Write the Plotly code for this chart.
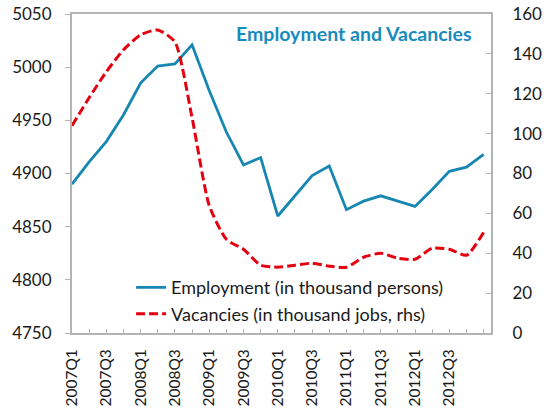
import plotly.graph_objects as go

quarters = [f"{y}Q{q}" for y in range(2007, 2013) for q in range(1, 5)] + ["2013Q1"]
employment = [4890, 4911, 4930, 4955, 4985, 5001, 5003, 5021, 4978, 4939,
              4908, 4915, 4860, 4879, 4898, 4907, 4866, 4874, 4879, 4874,
              4869, 4885, 4902, 4906, 4918]
vacancies = [104, 118, 131, 142, 149.5, 152, 146, 108, 64, 47,
             42, 34, 33, 34, 35, 33.5, 33, 38, 40, 37.5,
             37, 42.5, 42, 39, 50.5]
tick_labels = [q if (i % 2 == 0 and i <= 22) else "" for i, q in enumerate(quarters)]

BLUE = "#1787b1"
RED = "#e3000f"
AXIS = "#b4b4b4"
FONT = "Lato, Open Sans, sans-serif"

fig = go.Figure()
fig.add_trace(go.Scatter(x=quarters, y=employment, mode="lines",
                         name="Employment (in thousand persons)",
                         line=dict(color=BLUE, width=2.8)))
fig.add_trace(go.Scatter(x=quarters, y=vacancies, mode="lines", yaxis="y2",
                         name="Vacancies (in thousand jobs, rhs)",
                         line=dict(color=RED, width=3, dash="9px,4px", shape="spline", smoothing=0.6)))

fig.update_layout(
    width=546, height=410,
    margin=dict(l=72, r=55, t=14, b=77),
    plot_bgcolor="white", paper_bgcolor="white",
    font=dict(family=FONT, size=17, color="#1a1a1a"),
    showlegend=True,
    legend=dict(x=0.141, y=0.2, xanchor="left", yanchor="top",
                bgcolor="rgba(0,0,0,0)", font=dict(size=18),
                tracegroupgap=0),
    xaxis=dict(type="category", range=[0, 24.43], tickmode="array",
               tickvals=quarters, ticktext=tick_labels, tickangle=-90,
               ticks="inside", ticklen=4, tickcolor=AXIS, automargin=False,
               showline=True, linecolor=AXIS, linewidth=2, mirror=True,
               showgrid=False, zeroline=False, tickfont=dict(size=15.5),
               ticklabelstandoff=8, ticklabeloverflow="allow"),
    yaxis=dict(range=[4750, 5050], dtick=50, ticks="outside", ticklen=5,
               tickcolor=AXIS, showline=True, linecolor=AXIS, linewidth=2,
               showgrid=False, zeroline=False, automargin=False,
               ticklabelstandoff=10, ticklabeloverflow="allow"),
    yaxis2=dict(range=[0, 160], dtick=20, overlaying="y", side="right",
                ticks="inside", ticklen=5, tickcolor=AXIS, showline=True,
                linecolor=AXIS, linewidth=2, showgrid=False, zeroline=False,
                automargin=False, ticklabelstandoff=16, ticklabeloverflow="allow"),
    annotations=[dict(text="<b>Employment and Vacancies</b>", xref="paper", yref="paper",
                      x=0.673, y=0.94, xanchor="center", yanchor="middle",
                      showarrow=False, font=dict(size=19.5, color="#188bbd"))],
)

# remove the browser's default 8px body margin so the figure sits at the page origin
fig.write_html("out.html", config={"displayModeBar": False},
               post_script="document.body.style.margin='0';")
